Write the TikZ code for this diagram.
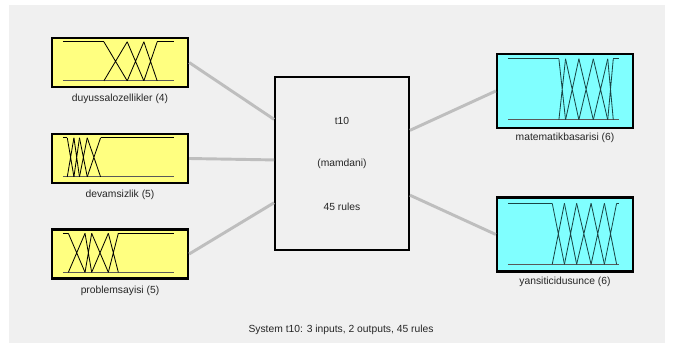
\documentclass[tikz,border=0pt]{standalone}
\usepackage{fontspec}
\setmainfont{Liberation Sans}
\usetikzlibrary{positioning}

\definecolor{panelgray}{RGB}{240,240,240}
\definecolor{inyellow}{RGB}{255,255,128}
\definecolor{outcyan}{RGB}{128,255,255}
\definecolor{wiregray}{RGB}{190,190,190}
\definecolor{mfteal}{RGB}{25,70,70}

\tikzset{
  varbox/.style={draw=black, line width=2pt, minimum width=4.08cm, inner sep=0pt},
  inbox/.style={varbox, fill=inyellow, minimum height=1.47cm},
  outbox/.style={varbox, fill=outcyan, minimum height=2.22cm},
  sysbox/.style={draw=black, line width=1.6pt, fill=panelgray, minimum width=4.02cm, minimum height=5.19cm},
  wire/.style={draw=wiregray, line width=2.5pt},
  varname/.style={font=\fontsize{8.8}{10}\selectfont, text=black!85, inner sep=0pt},
  mfline/.style={line width=0.7pt},
}

% membership functions: [colour]{box}{top row}{bottom row}{first break}{other breaks}
\newcommand{\mfplot}[6][black]{%
  \begin{scope}[shift={(#2.north west)}, #1]
    \draw[line width=1pt, black!65] (12,#4) -- (123,#4);
    \draw[mfline] (12,#3) -- ({12+111*#5},#3);
    \foreach \q [remember=\q as \p (initially #5)] in {#6}{
      \draw[mfline] ({12+111*\p},#3) -- ({12+111*\q},#4)
                    ({12+111*\p},#4) -- ({12+111*\q},#3);
      \xdef\mflast{\q}
    }
    \draw[mfline] ({12+111*\mflast},#3) -- (123,#3);
  \end{scope}}

\begin{document}
\begin{tikzpicture}[x=0.03cm, y=-0.03cm]
  \useasboundingbox (0,0) rectangle (676,347);
  \fill[panelgray] (9,5) rectangle (665,343);

  % fuzzy system in the middle
  \node[sysbox] (sys) at (342,163.5) {};
  \node[varname] (sysname) at (342,121) {t10};
  \node[varname] (systype) at (342,164) {(mamdani)};
  \node[varname] (sysrules) at (342,207) {45 rules};

  % inputs
  \node[inbox] (in1) at (120,62.5) {};
  \node[inbox] (in2) at (120,158.5) {};
  \node[inbox] (in3) at (120,254) {};
  \node[varname, below=5pt of in1] (in1name) {duyussalozellikler (4)};
  \node[varname, below=5pt of in2] (in2name) {devamsizlik (5)};
  \node[varname, below=5pt of in3] (in3name) {problemsayisi (5)};

  % outputs
  \node[outbox] (out1) at (565,91) {};
  \node[outbox] (out2) at (565,234.5) {};
  \node[varname, below=3.5pt of out1] (out1name) {matematikbasarisi (6)};
  \node[varname, below=3.5pt of out2] (out2name) {yansiticidusunce (6)};

  % wires
  \draw[wire] (in1.east) -- (sys.147);
  \draw[wire] (in2.east) -- (sys.177);
  \draw[wire] (in3.east) -- (sys.210);
  \draw[wire] (sys.26.6) -- (out1.west);
  \draw[wire] (sys.335) -- (out2.west);

  % membership functions
  \mfplot{in1}{5}{44}{0.37}{0.58,0.73,0.85}
  \mfplot{in2}{5}{44}{0.04}{0.1,0.15,0.22,0.34}
  \mfplot{in3}{5}{44}{0.05}{0.2,0.26,0.41,0.5}
  \mfplot[mfteal]{out1}{6}{67}{0.46}{0.52,0.64,0.77,0.9,0.95}
  \mfplot[mfteal]{out2}{7}{68}{0.4}{0.51,0.62,0.75,0.87,0.98}

  \node[varname] (summary) at (341,330) {System t10: 3 inputs, 2 outputs, 45 rules};
\end{tikzpicture}
\end{document}
